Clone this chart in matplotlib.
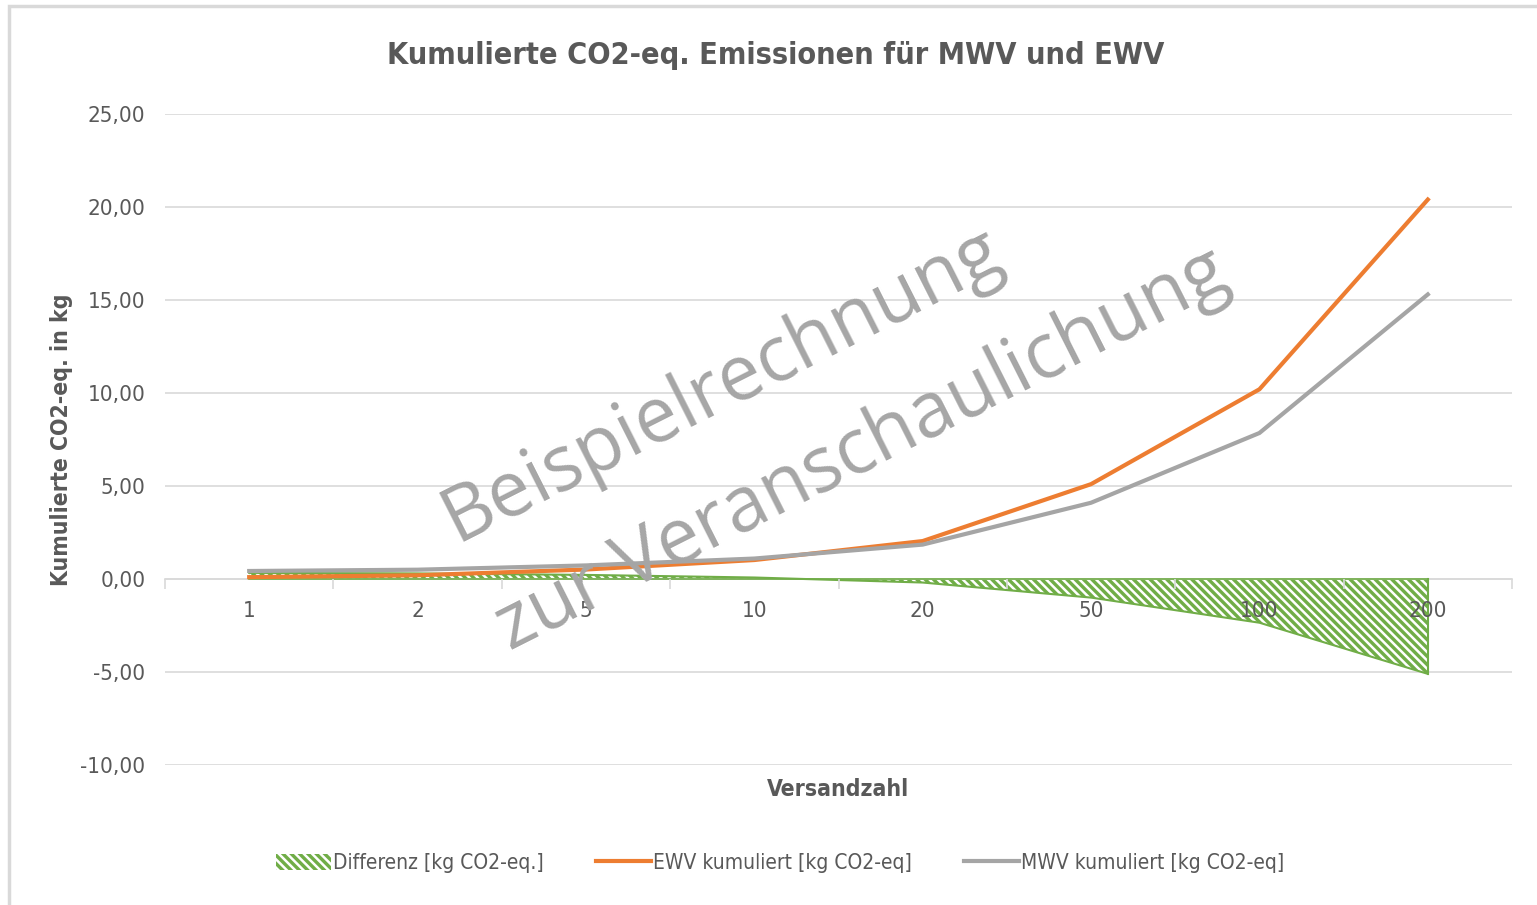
import numpy as np
import matplotlib.pyplot as plt
from matplotlib.patches import Rectangle

plt.rcParams['font.family'] = ['DejaVu Sans']
plt.rcParams['font.stretch'] = 'condensed'
plt.rcParams['hatch.linewidth'] = 1.8

# data
versand = ['1', '2', '5', '10', '20', '50', '100', '200']
ewv = [0.10, 0.20, 0.51, 1.02, 2.04, 5.10, 10.20, 20.40]
mwv = [0.43, 0.50, 0.73, 1.10, 1.85, 4.10, 7.85, 15.30]
differenz = [0.33, 0.30, 0.22, 0.08, -0.19, -1.00, -2.35, -5.10]
y_ticks = [-10, -5, 0, 5, 10, 15, 20, 25]

txt = '#595959'
grid = '#D9D9D9'
green = '#70AD47'
orange = '#ED7D31'
grey = '#A5A5A5'

fig = plt.figure(figsize=(15.37, 9.05), dpi=100)
ax = fig.add_axes([165/1537, 1 - 765/905, (1512 - 165)/1537, (765 - 114)/905])

x = np.arange(len(versand))

# difference area: green with white diagonal stripes
ax.fill_between(x, 0, differenz, facecolor=green, edgecolor='white', hatch='\\\\\\\\',
                linewidth=0, zorder=2, label='Differenz [kg CO2-eq.]')
ax.plot(x, differenz, color=green, lw=1.5, zorder=3)
ax.plot([x[-1], x[-1]], [0, differenz[-1]], color=green, lw=1.5, zorder=3)
ax.plot([x[0], x[-1]], [0, 0], color=green, lw=1.2, zorder=3)

ax.plot(x, ewv, color=orange, lw=3, zorder=4, label='EWV kumuliert [kg CO2-eq]')
ax.plot(x, mwv, color=grey, lw=3, zorder=4, label='MWV kumuliert [kg CO2-eq]')

ax.set_xlim(-0.5, len(versand) - 0.5)
ax.set_ylim(-10, 25)
ax.set_yticks(y_ticks)
ax.set_yticklabels([f'{v:.2f}'.replace('.', ',') for v in y_ticks])
ax.yaxis.grid(True, color=grid, lw=1.2)
ax.set_axisbelow(True)
ax.xaxis.set_zorder(5)

ax.set_xticks(x)
ax.set_xticklabels(versand)
ax.set_xticks(np.arange(len(versand) + 1) - 0.5, minor=True)
ax.tick_params(axis='x', which='major', length=0, pad=16, labelsize=16, labelcolor=txt)
ax.tick_params(axis='x', which='minor', length=7, color=grid, width=1.2, direction='out')
ax.tick_params(axis='y', length=0, pad=14, labelsize=16, labelcolor=txt)

for s in ['top', 'right', 'left']:
    ax.spines[s].set_visible(False)
ax.spines['bottom'].set_position(('data', 0))
ax.spines['bottom'].set_color(grid)
ax.spines['bottom'].set_linewidth(1.2)

fig.text(776/1537, 1 - 55/905, 'Kumulierte CO2-eq. Emissionen für MWV und EWV',
         ha='center', va='center', fontsize=22, fontweight='bold', color=txt)
fig.text(838/1537, 1 - 789/905, 'Versandzahl', ha='center', va='center',
         fontsize=16.5, fontweight='bold', color=txt)
fig.text(62/1537, 1 - 440/905, 'Kumulierte CO2-eq. in kg', ha='center', va='center',
         rotation=90, fontsize=16.5, fontweight='bold', color=txt)

# watermark
wm = dict(ha='center', va='center', rotation=26.8, rotation_mode='anchor',
          fontsize=55, color='#A6A6A6', family='Open Sans', stretch='normal', zorder=10)
fig.text(722/1537, 1 - 385/905, 'Beispielrechnung', **wm)
fig.text(862/1537, 1 - 450/905, 'zur Veranschaulichung', **wm)

leg = fig.legend(loc='center', bbox_to_anchor=(780/1537, 1 - 863/905), ncol=3,
                 frameon=False, fontsize=15, handlelength=2.65, handleheight=0.8,
                 columnspacing=2.5, handletextpad=0.1)
for t in leg.get_texts():
    t.set_color(txt)

# outer chart frame
fig.patches.append(Rectangle((9/1537, -0.05), 1.1, 1 - 6/905 + 0.05, transform=fig.transFigure,
                             fill=False, edgecolor=grid, lw=2.5, zorder=0))

fig.savefig('out.png', dpi=100)
